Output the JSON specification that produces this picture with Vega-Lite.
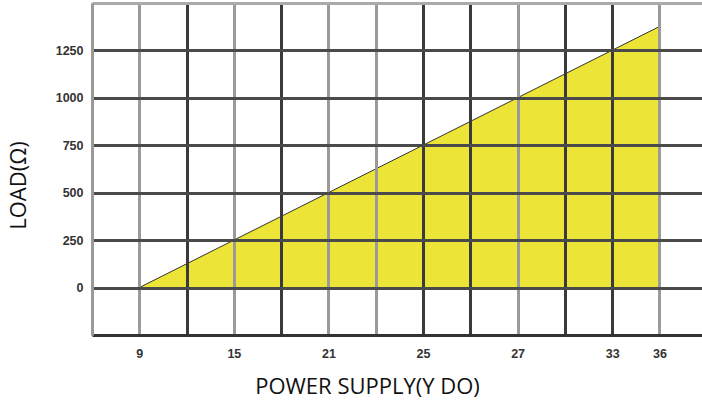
{
  "$schema": "https://vega.github.io/schema/vega-lite/v6.json",
  "autosize": {"type": "none"},
  "width": 610,
  "height": 332,
  "padding": {"left": 92, "top": 3, "right": 0, "bottom": 69},
  "background": "white",
  "config": {"view": {"stroke": null}},
  "data": {"values": [
    {"pos": 1, "supply": "9", "load": 0},
    {"pos": 12, "supply": "36", "load": 1376}
  ]},
  "mark": {"type": "area", "color": "#ECE537", "opacity": 1, "line": {"color": "#333333", "strokeWidth": 1}},
  "encoding": {
    "x": {
      "field": "pos", "type": "quantitative",
      "scale": {"domain": [0, 12.9], "nice": false, "zero": false},
      "axis": {
        "zindex": 1,
        "values": [0, 1, 2, 3, 4, 5, 6, 7, 8, 9, 10, 11, 12],
        "labelExpr": "datum.value == 1 ? '9' : datum.value == 3 ? '15' : datum.value == 5 ? '21' : datum.value == 7 ? '25' : datum.value == 9 ? '27' : datum.value == 11 ? '33' : datum.value == 12 ? '36' : ''",
        "ticks": false,
        "labelPadding": 12,
        "labelFont": "Liberation Sans",
        "labelFontWeight": "bold",
        "labelFontSize": 12.5,
        "labelColor": "#333333",
        "labelFlush": false,
        "labelOverlap": false,
        "grid": true,
        "gridColor": {"condition": {"test": "indexof([2,4,7,8,10,11], datum.value) >= 0", "value": "#3a3a3a"}, "value": "#9a9a9a"},
        "gridWidth": 3,
        "gridOpacity": 1,
        "domain": true,
        "domainColor": "#333333",
        "domainWidth": 3,
        "title": "POWER SUPPLY(Y DO)",
        "titleFont": "Open Sans",
        "titleFontSize": 22,
        "titleFontWeight": "normal",
        "titleColor": "#111111",
        "titleAnchor": "middle",
        "titleBaseline": "middle",
        "titleX": 275,
        "titleY": 51
      }
    },
    "y": {
      "field": "load", "type": "quantitative",
      "scale": {"domain": [-250, 1500], "nice": false, "zero": false},
      "axis": {
        "zindex": 1,
        "values": [0, 250, 500, 750, 1000, 1250, 1500],
        "labelExpr": "datum.value == 1500 ? '' : datum.value + ''",
        "ticks": false,
        "labelPadding": 9,
        "labelFont": "Liberation Sans",
        "labelFontWeight": "bold",
        "labelFontSize": 12.5,
        "labelColor": "#333333",
        "labelFlush": false,
        "labelOverlap": false,
        "grid": true,
        "gridColor": {"condition": {"test": "datum.value == 1500", "value": "#aaaaaa"}, "value": "#4a4a4a"},
        "gridWidth": 3,
        "gridOpacity": 1,
        "domain": true,
        "domainColor": "#9a9a9a",
        "domainWidth": 3,
        "title": "LOAD(Ω)",
        "titleFont": "Open Sans",
        "titleFontSize": 22,
        "titleFontWeight": "normal",
        "titleColor": "#111111",
        "titleAngle": -90,
        "titleAnchor": "middle",
        "titleBaseline": "middle",
        "titleX": -74,
        "titleY": 182
      }
    }
  }
}
